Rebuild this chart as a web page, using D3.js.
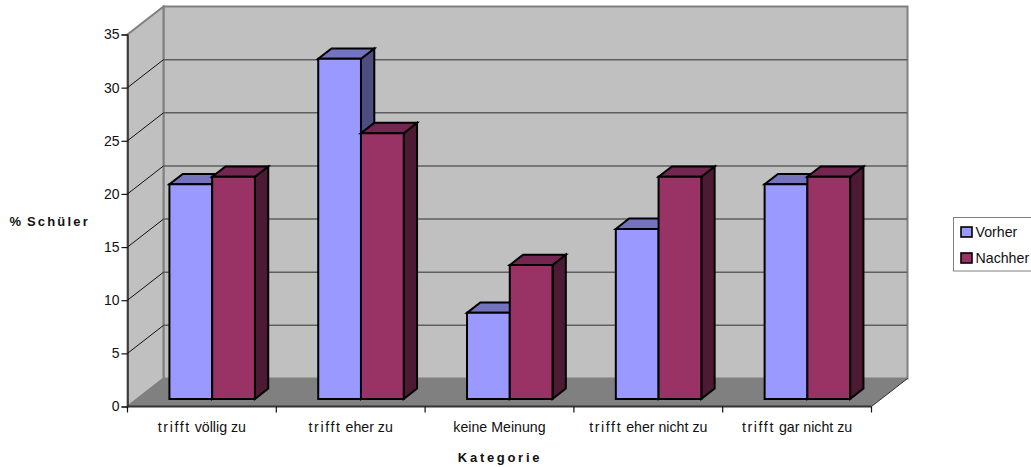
<!DOCTYPE html>
<html>
<head>
<meta charset="utf-8">
<script src="https://cdn.jsdelivr.net/npm/d3@7"></script>
<style>
html,body{margin:0;padding:0;background:#fff}
svg{display:block}
text{font-family:"Liberation Sans",Arial,sans-serif;fill:#111}
</style>
</head>
<body>
<svg id="chart" width="1031" height="467"></svg>
<script>
const categories = ["trifft völlig zu", "trifft eher zu", "keine Meinung", "trifft eher nicht zu", "trifft gar nicht zu"];
const vorher = [20.2, 32, 8.1, 16, 20.2];
const nachher = [20.9, 25, 12.6, 20.9, 20.9];
const seriesNames = ["Vorher", "Nachher"];
const yTicks = [0, 5, 10, 15, 20, 25, 30, 35];
const axisTitleY = "% Schüler";
const axisTitleX = "Kategorie";

const faceColors = {
  Vorher: { front: "#9999ff", top: "#7373bf", side: "#4d4d80" },
  Nachher: { front: "#993366", top: "#732650", side: "#4d1a33" }
};
const seriesValues = { Vorher: vorher, Nachher: nachher };

// Oblique projection: depth 0 is the front plane, depth 1 the back wall.
const depthX = 36, depthY = 28;
const y = d3.scaleLinear().domain([0, 35]).range([406.5, 34.5]);
const x = d3.scaleBand().domain(categories).range([127.5, 871.5]);
const barInset = 32.2, barRun = 85.5;
const sub = d3.scaleBand().domain(seriesNames).range([barInset, barInset + barRun]);
const pt = (px, v, d) => [px + d * depthX, y(v) - d * depthY];
const poly = pts => pts.map(p => p.join(",")).join(" ");

const svg = d3.select("#chart");
const x0 = x.range()[0], x1 = x.range()[1];

// Walls and floor
svg.append("polygon").attr("points", poly([pt(x0, 0, 1), pt(x1, 0, 1), pt(x1, 35, 1), pt(x0, 35, 1)]))
  .attr("fill", "#c0c0c0").attr("stroke", "#808080").attr("stroke-width", 2);
svg.append("polygon").attr("points", poly([pt(x0, 0, 0), pt(x0, 0, 1), pt(x0, 35, 1), pt(x0, 35, 0)]))
  .attr("fill", "#c0c0c0").attr("stroke", "#808080").attr("stroke-width", 2);
svg.append("polygon").attr("points", poly([pt(x0, 0, 0), pt(x1, 0, 0), pt(x1, 0, 1), pt(x0, 0, 1)]))
  .attr("fill", "#808080");
svg.append("line").attr("x1", x1).attr("y1", y(0)).attr("x2", x1 + depthX).attr("y2", y(0) - depthY)
  .attr("stroke", "#222").attr("stroke-width", 0.9);

// Gridlines on the back wall and their diagonals across the side wall
const gridTicks = yTicks.filter(t => t > 0 && t < 35);
svg.append("g").selectAll("line").data(gridTicks).join("line")
  .attr("x1", pt(x0, 0, 1)[0]).attr("x2", pt(x1, 0, 1)[0])
  .attr("y1", t => pt(x0, t, 1)[1]).attr("y2", t => pt(x0, t, 1)[1])
  .attr("stroke", "#5f5f5f").attr("stroke-width", 1.5);
svg.append("g").selectAll("line").data(gridTicks).join("line")
  .attr("x1", x0).attr("x2", x0 + depthX)
  .attr("y1", t => y(t)).attr("y2", t => pt(x0, t, 1)[1])
  .attr("stroke", "#111").attr("stroke-width", 1);

// Bars: one front, top and side face per value
const barDepthStart = 0.27, barDepthEnd = 0.64;
const barGroup = svg.append("g").attr("stroke", "#000").attr("stroke-width", 2).attr("stroke-linejoin", "miter");
categories.forEach((cat, i) => {
  seriesNames.forEach(name => {
    const v = seriesValues[name][i];
    const colors = faceColors[name];
    const l = x(cat) + sub(name), r = l + sub.bandwidth();
    const a = barDepthStart, b = barDepthEnd;
    barGroup.append("polygon").attr("fill", colors.side)
      .attr("points", poly([pt(r, 0, a), pt(r, v, a), pt(r, v, b), pt(r, 0, b)]));
    barGroup.append("polygon").attr("fill", colors.top)
      .attr("points", poly([pt(l, v, a), pt(r, v, a), pt(r, v, b), pt(l, v, b)]));
    barGroup.append("polygon").attr("fill", colors.front)
      .attr("points", poly([pt(l, 0, a), pt(r, 0, a), pt(r, v, a), pt(l, v, a)]));
  });
});

// Axes
const yAxis = svg.append("g").attr("transform", `translate(${x0},0)`)
  .call(d3.axisLeft(y).tickValues(yTicks).tickSize(6).tickPadding(2));
yAxis.selectAll("text").attr("font-size", 14).style("font-family", '"Liberation Sans",Arial,sans-serif');
yAxis.selectAll("line,path").attr("stroke", "#111").attr("stroke-width", 1.2);

const xEdge = d3.scaleLinear().domain([0, categories.length]).range(x.range());
const xAxis = svg.append("g").attr("transform", `translate(0,${y(0)})`);
xAxis.append("line").attr("x1", x0).attr("x2", x1).attr("stroke", "#333").attr("stroke-width", 2);
xAxis.selectAll("line.tick").data(d3.range(categories.length + 1)).join("line")
  .attr("class", "tick").attr("x1", d => xEdge(d)).attr("x2", d => xEdge(d))
  .attr("y1", 0).attr("y2", 6).attr("stroke", "#111").attr("stroke-width", 1.2);

// Category labels, with the wide tracking the word "trifft" has
const catLabels = svg.append("g").selectAll("text").data(categories).join("text")
  .attr("x", d => x(d) + x.bandwidth() / 2).attr("y", 432)
  .attr("text-anchor", "middle").attr("font-size", 14.2);
catLabels.each(function(d) {
  const t = d3.select(this);
  d.split(" ").forEach((word, i) => {
    t.append("tspan").text((i ? " " : "") + word)
      .attr("letter-spacing", word === "trifft" ? 1.6 : 0);
  });
});

// Axis titles: the tracking applies to the words, not to the percent sign
const titleY = svg.append("text").attr("x", 90).attr("y", 226).attr("text-anchor", "end")
  .attr("font-size", 13).attr("font-weight", "bold");
axisTitleY.split(" ").forEach((word, i) => {
  titleY.append("tspan").text((i ? " " : "") + word).attr("letter-spacing", i ? 2.2 : 0);
});
svg.append("text").attr("x", 500).attr("y", 462).attr("text-anchor", "middle")
  .attr("font-size", 13).attr("font-weight", "bold").attr("letter-spacing", 2.7).text(axisTitleX);

// Legend
const legend = svg.append("g");
legend.append("rect").attr("x", 953.5).attr("y", 217.5).attr("width", 80).attr("height", 53.5)
  .attr("fill", "#fff").attr("stroke", "#808080").attr("stroke-width", 1);
const legendY = d3.scalePoint().domain(seriesNames).range([231.5, 257.5]);
legend.selectAll("rect.key").data(seriesNames).join("rect")
  .attr("class", "key").attr("x", 961).attr("y", d => legendY(d) - 4.5).attr("width", 11).attr("height", 10)
  .attr("fill", d => faceColors[d].front).attr("stroke", "#000").attr("stroke-width", 1.6);
legend.selectAll("text").data(seriesNames).join("text")
  .attr("x", 975.5).attr("y", d => legendY(d) + 5).attr("font-size", 14.2).text(d => d);
</script>
</body>
</html>
